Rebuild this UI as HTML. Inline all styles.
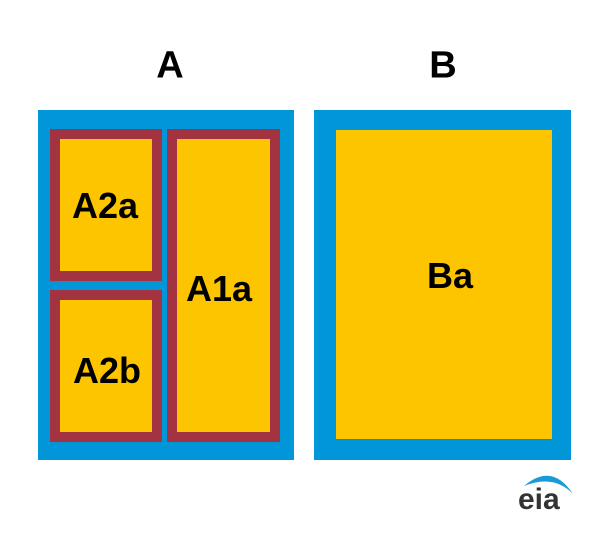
<!DOCTYPE html>
<html><head><meta charset="utf-8"><style>
body{margin:0;background:#fff;width:607px;height:549px;overflow:hidden;font-family:"Liberation Sans",Arial,sans-serif}
.a{position:absolute;box-sizing:border-box}
.t{position:absolute;font-weight:bold;color:#000;transform:translate(-50%,-50%);white-space:nowrap}
</style></head><body>
<div class="t" style="left:170px;top:66px;font-size:38px">A</div>
<div class="t" style="left:443px;top:66px;font-size:38px">B</div>
<div class="a" style="left:38px;top:110px;width:256px;height:350px;background:#0096d7"></div>
<div class="a" style="left:50px;top:129px;width:112px;height:152px;border:10px solid #a33340;background:#fdc500"></div>
<div class="a" style="left:50px;top:290px;width:112px;height:152px;border:10px solid #a33340;background:#fdc500"></div>
<div class="a" style="left:167px;top:129px;width:113px;height:313px;border:10px solid #a33340;background:#fdc500"></div>
<div class="t" style="left:105px;top:206px;font-size:36px">A2a</div>
<div class="t" style="left:107px;top:371px;font-size:36px">A2b</div>
<div class="t" style="left:219px;top:289px;font-size:36px">A1a</div>
<div class="a" style="left:314px;top:110px;width:257px;height:350px;background:#0096d7"></div>
<div class="a" style="left:336px;top:130px;width:216px;height:309px;background:#fdc500"></div>
<div class="t" style="left:450px;top:276px;font-size:36px">Ba</div>
<svg style="position:absolute;left:510px;top:468px" width="70" height="45">
<path d="M14 18 Q42 -6 63 26 Q44 6 14 18Z" fill="#1a9ad9"/>
<text x="8" y="41" font-family="Liberation Sans" font-size="30" font-weight="bold" fill="#333">eia</text>
</svg>
</body></html>
